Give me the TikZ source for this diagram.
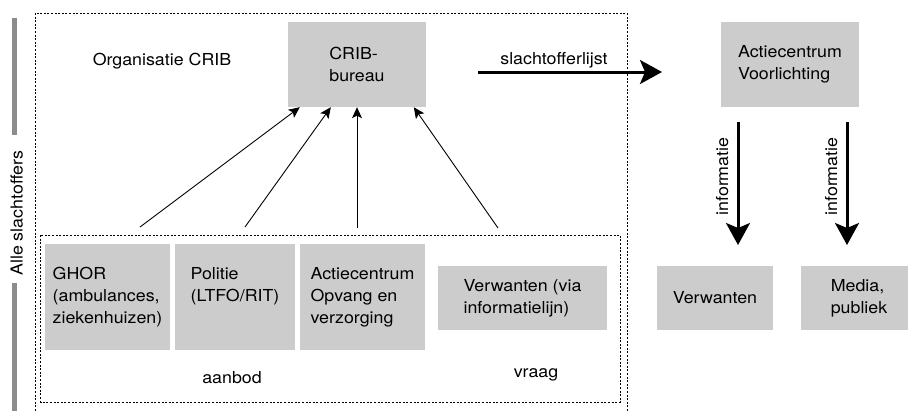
\documentclass[tikz,border=0pt]{standalone}
\usepackage{fontspec}
\setmainfont{TeX Gyre Heros}[FakeStretch=1.08]
\usetikzlibrary{arrows.meta,calc}
\definecolor{boxgray}{RGB}{204,204,204}
\definecolor{bargray}{RGB}{140,140,140}
\begin{document}
\begin{tikzpicture}[x=1pt,y=-1pt,
  every node/.style={font=\fontsize{16.5}{22}\selectfont},
  box/.style={fill=boxgray, inner sep=0pt, align=left, anchor=center},
  frame/.style={draw=black, line width=0.9pt, dash pattern=on 2pt off 1.6pt},
  thinarrow/.style={line width=0.9pt, -{Stealth[length=11pt,width=10pt,inset=2.5pt]}},
  thickarrow/.style={line width=3pt, -{Stealth[length=22pt,width=24pt,inset=5pt]}},
  sidebar/.style={line width=5pt, draw=bargray}
]
\useasboundingbox (0,0) rectangle (908,410);
\clip (0,0) rectangle (908,410);

% side label with its two bars
\draw[sidebar] (14.5,18) -- (14.5,135);
\draw[sidebar] (14.5,283) -- (14.5,412);
\node[rotate=90, anchor=base] (alle) at (22.5,213) {Alle slachtoffers};

% dotted frames
\draw[frame] (35,13) rectangle (627,420);
\draw[frame] (40.5,235) rectangle (620,402);

% boxes
\node[box, minimum width=138pt, minimum height=85pt] (crib) at (357,64.5) {CRIB-\\bureau};
\node[box, minimum width=138pt, minimum height=85pt] (av) at (790,64.5) {Actiecentrum\\Voorlichting};
\node[box, minimum width=125pt, minimum height=106pt] (ghor) at (107.5,297) {GHOR\\(ambulances,\\ziekenhuizen)};
\node[box, minimum width=120pt, minimum height=106pt] (pol) at (235,297) {Politie\\(LTFO/RIT)\\\vphantom{)}};
\node[box, minimum width=125pt, minimum height=106pt] (acov) at (362.5,297) {Actiecentrum\\Opvang en\\verzorging};
\node[box, minimum width=169pt, minimum height=64pt] (vvia) at (522.5,298) {Verwanten (via\\informatielijn)};
\node[box, minimum width=116pt, minimum height=64pt] (verw) at (715,298) {Verwanten};
\node[box, minimum width=116pt, minimum height=64pt] (media) at (859,298) {Media,\\publiek};

% free labels
\node[anchor=base] (org) at (162,65) {Organisatie CRIB};
\node[anchor=base] (aanbod) at (232,383) {aanbod};
\node[anchor=base] (vraag) at (536,377) {vraag};

% reports flowing up to the CRIB-bureau
\coordinate (g1) at (140,227);
\coordinate (g2) at (245,227);
\coordinate (g3) at (357,228);
\coordinate (g4) at (498,228);
\draw[thinarrow] (g1) -- ($(crib.south west)+(12,0)$);
\draw[thinarrow] (g2) -- ($(crib.south west)+(43,0)$);
\draw[thinarrow] (g3) -- (crib.south);
\draw[thinarrow] (g4) -- ($(crib.south west)+(126,0)$);

% victim list to the information centre
\coordinate (s0) at (478,72);
\coordinate (s1) at (662,72);
\draw[thickarrow] (s0) -- (s1);
\node[anchor=base] (lijst) at (554,64) {slachtofferlijst};

% information to relatives and media
\coordinate (i1a) at (738,122);
\coordinate (i1b) at (738,245);
\coordinate (i2a) at (847,122);
\coordinate (i2b) at (847,245);
\draw[thickarrow] (i1a) -- (i1b);
\draw[thickarrow] (i2a) -- (i2b);
\node[rotate=90, anchor=base] (inf1) at (728,176.5) {informatie};
\node[rotate=90, anchor=base] (inf2) at (837,176.5) {informatie};
\end{tikzpicture}
\end{document}
